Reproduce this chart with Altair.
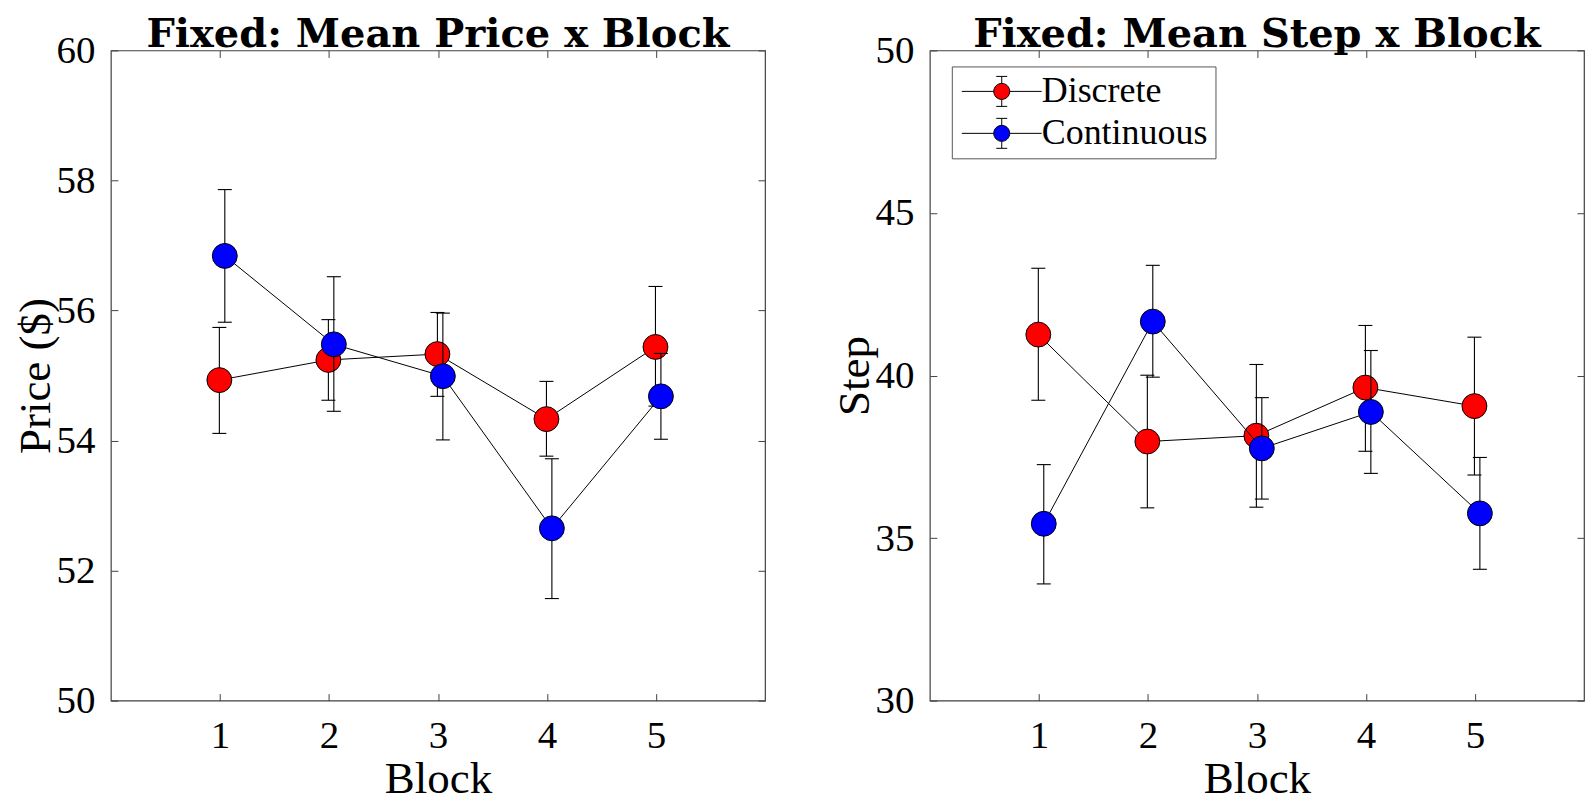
import altair as alt
import pandas as pd

# ---------------- data ----------------
blocks = [1, 2, 3, 4, 5]
series_names = ["Discrete", "Continuous"]
series_colors = ["#FF0000", "#0000FF"]
series_xshift = [-0.005, 0.045]   # small horizontal dodge used in the original

price_discrete = [54.93, 55.24, 55.33, 54.33, 55.44]
price_discrete_hi = [55.74, 55.86, 55.97, 54.91, 56.37]
price_discrete_lo = [54.11, 54.62, 54.68, 53.76, 54.53]
price_continuous = [56.84, 55.48, 54.99, 52.65, 54.68]
price_continuous_hi = [57.86, 56.52, 55.96, 53.72, 55.34]
price_continuous_lo = [55.82, 54.45, 54.01, 51.57, 54.02]

step_discrete = [41.26, 37.97, 38.15, 39.63, 39.06]
step_discrete_hi = [43.30, 40.01, 40.34, 41.54, 41.18]
step_discrete_lo = [39.24, 35.93, 35.95, 37.67, 36.94]
step_continuous = [35.44, 41.66, 37.76, 38.88, 35.76]
step_continuous_hi = [37.26, 43.39, 39.32, 40.77, 37.48]
step_continuous_lo = [33.59, 39.95, 36.20, 36.99, 34.04]

x_ticks = [1, 2, 3, 4, 5]
price_ticks = [50, 52, 54, 56, 58, 60]
step_ticks = [30, 35, 40, 45, 50]


def build_df(groups):
    frames = []
    for name, shift, (m, hi, lo) in zip(series_names, series_xshift, groups):
        frames.append(pd.DataFrame({
            "block": blocks,
            "x": [b + shift for b in blocks],
            "mean": m, "hi": hi, "lo": lo,
            "series": name,
        }))
    return pd.concat(frames, ignore_index=True)


price_df = build_df([(price_discrete, price_discrete_hi, price_discrete_lo),
                     (price_continuous, price_continuous_hi, price_continuous_lo)])
step_df = build_df([(step_discrete, step_discrete_hi, step_discrete_lo),
                    (step_continuous, step_continuous_hi, step_continuous_lo)])

# ---------------- style ----------------
AX = "#404040"
SERIF = "Liberation Serif"
W, H = 655, 651
TICK = 7

legend_path = ("M-4,0H-0.8M0.8,0H4M0,-0.8V-1.5M-0.55,-1.5H0.55"
               "M0,0.8V1.5M-0.55,1.5H0.55"
               "M-0.8,0A0.8,0.8,0,1,1,0.8,0A0.8,0.8,0,1,1,-0.8,0Z")


def panel(df, ydomain, yticks, ytitle, title, show_legend):
    xs = alt.Scale(domain=[0, 6], nice=False, zero=False)
    ys = alt.Scale(domain=ydomain, nice=False, zero=False)

    main_x = alt.Axis(values=x_ticks, title="Block", offset=-TICK, tickSize=TICK,
                      tickColor=AX, tickWidth=1, domain=False, grid=False,
                      labelFont=SERIF, labelFontSize=39, labelColor="black",
                      labelPadding=16, titleFont=SERIF, titleFontSize=45,
                      titleFontWeight="normal", titleColor="black", titlePadding=1,
                      labelFlush=False)
    main_y = alt.Axis(values=yticks, title=ytitle, offset=-TICK, tickSize=TICK,
                      tickColor=AX, tickWidth=1, domain=False, grid=False,
                      labelFont=SERIF, labelFontSize=39, labelColor="black",
                      labelPadding=16, titleFont=SERIF, titleFontSize=45,
                      titleFontWeight="normal", titleColor="black", titlePadding=-3,
                      labelFlush=False)
    top_x = alt.Axis(orient="top", values=x_ticks, title=None, labels=False,
                     offset=-TICK, tickSize=TICK, tickColor=AX, tickWidth=1,
                     domain=False, grid=False)
    right_y = alt.Axis(orient="right", values=yticks, title=None, labels=False,
                       offset=-TICK, tickSize=TICK, tickColor=AX, tickWidth=1,
                       domain=False, grid=False)

    base = alt.Chart(df)
    fill_scale = alt.Scale(domain=series_names, range=series_colors)
    if show_legend:
        leg = alt.Legend(orient="none", legendX=22, legendY=16, title=None,
                         symbolType=legend_path, symbolSize=400,
                         symbolStrokeColor="black", symbolStrokeWidth=1,
                         symbolOpacity=1, symbolOffset=25,
                         labelFont=SERIF, labelFontSize=36, labelColor="black",
                         labelOffset=22, labelLimit=400, rowPadding=6,
                         padding=7, strokeColor="#555555", fillColor="white")
    else:
        leg = None

    layers = []
    for i, name in enumerate(series_names):
        sub = base.transform_filter(alt.datum.series == name)
        if i == 0:
            xa, ya = main_x, main_y
        else:
            xa, ya = top_x, right_y
        err = sub.mark_rule(color="black", strokeWidth=1.1).encode(
            x=alt.X("x:Q", scale=xs, axis=xa),
            y=alt.Y("lo:Q", scale=ys, axis=ya),
            y2="hi:Q",
        )
        caps = sub.transform_fold(["hi", "lo"], as_=["end", "val"]).mark_tick(
            orient="horizontal", size=14, thickness=1.1, color="black", opacity=1
        ).encode(
            x=alt.X("x:Q", scale=xs, axis=None),
            y=alt.Y("val:Q", scale=ys, axis=None),
        )
        line = sub.mark_line(color="black", strokeWidth=1).encode(
            x=alt.X("x:Q", scale=xs, axis=None),
            y=alt.Y("mean:Q", scale=ys, axis=None),
            order="x:Q",
        )
        pts = sub.mark_point(shape="circle", filled=True, size=620, stroke="black",
                             strokeWidth=1, opacity=1).encode(
            x=alt.X("x:Q", scale=xs, axis=None),
            y=alt.Y("mean:Q", scale=ys, axis=None),
            fill=alt.Fill("series:N", scale=fill_scale, legend=leg,
                          sort=series_names),
        )
        layers += [err, caps, line, pts]

    return alt.layer(*layers).resolve_axis(x="independent", y="independent").properties(
        width=W, height=H,
        title=alt.TitleParams(title, font="DejaVu Serif", fontSize=40,
                              fontWeight="bold", color="black", baseline="alphabetic",
                              offset=-56, anchor="middle"),
    )


left = panel(price_df, [50, 60], price_ticks, "Price ($)",
             "Fixed: Mean Price x Block", False)
right = panel(step_df, [30, 50], step_ticks, "Step",
              "Fixed: Mean Step x Block", True)

chart = alt.hconcat(left, right, spacing=65).resolve_scale(
    fill="independent").resolve_legend(fill="independent").properties(
    padding={"left": 5, "top": 6, "right": 0, "bottom": 0}
).configure_view(stroke=AX, strokeWidth=1.2)

chart.save("out.html", embed_options={"renderer": "svg", "actions": False})
